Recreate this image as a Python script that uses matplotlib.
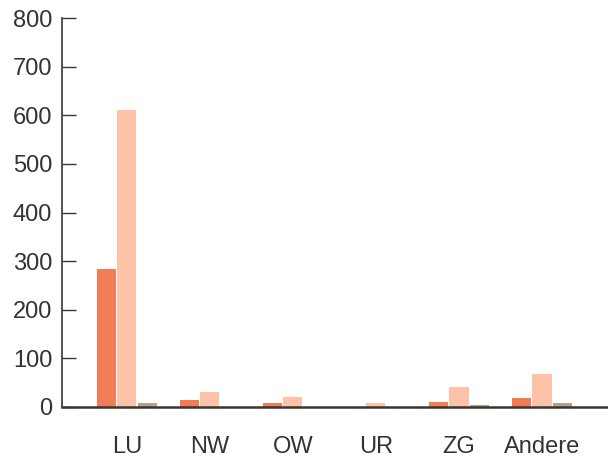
import matplotlib.pyplot as plt
import numpy as np

categories = ["LU", "NW", "OW", "UR", "ZG", "Andere"]
series_a = [284, 14, 8, 0, 10, 18]
series_b = [611, 31, 21, 8, 41, 68]
series_c = [8, 0, 0, 0, 4, 8]

colors = ["#F07D55", "#FCC3A8", "#B8A08F"]
axis_color = "#3A3530"


def main() -> None:
    plt.rcParams["font.family"] = ["Liberation Sans", "DejaVu Sans"]
    fig = plt.figure(figsize=(6.08, 4.65), dpi=100)
    ax = fig.add_axes([0.102, 0.125, 0.896, 0.836])

    x = np.arange(len(categories))
    width = 0.23
    step = 0.245
    for offset, values, color in zip((-step, 0, step), (series_a, series_b, series_c), colors):
        ax.bar(x + offset, values, width=width, color=color, linewidth=0)

    ax.set_xlim(-0.78, 5.78)
    ax.set_ylim(0, 800)
    ax.set_yticks(range(0, 801, 100))
    ax.set_xticks(x)
    ax.set_xticklabels(categories)

    for side in ("top", "right"):
        ax.spines[side].set_visible(False)
    for side in ("left", "bottom"):
        ax.spines[side].set_color(axis_color)
        ax.spines[side].set_linewidth(1.2)
    ax.spines["bottom"].set_linewidth(1.8)

    ax.tick_params(axis="y", direction="in", length=10, width=1.0, color=axis_color,
                   labelsize=17, labelcolor="#333333", pad=7)
    ax.tick_params(axis="x", length=0, labelsize=17, labelcolor="#333333", pad=21)

    fig.savefig("out.png", dpi=100)
    plt.close(fig)


if __name__ == "__main__":
    main()
